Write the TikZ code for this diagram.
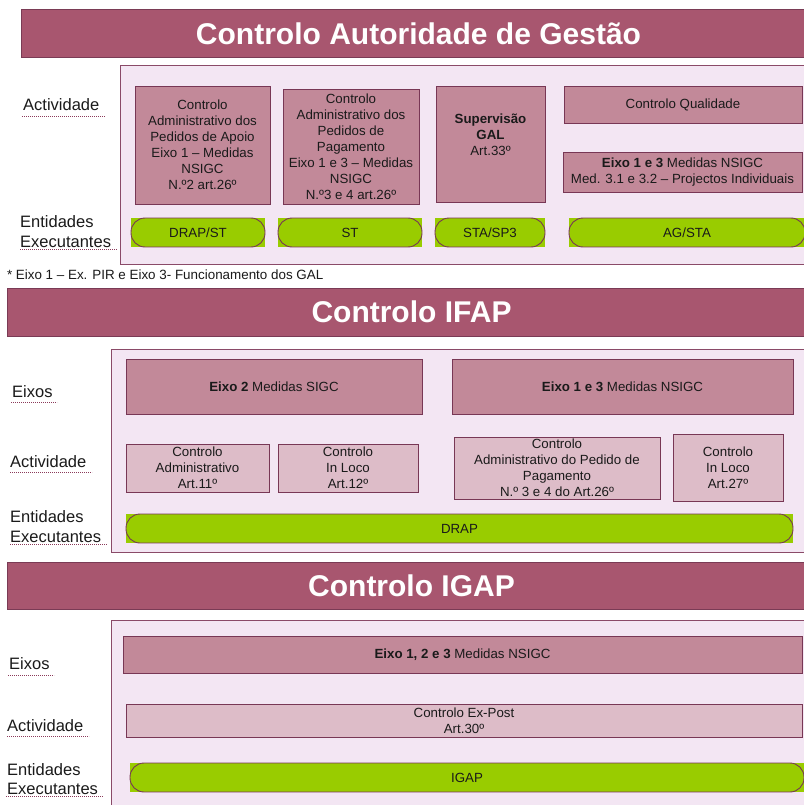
\documentclass[tikz,border=0pt]{standalone}
\usepackage{fontspec}
\setmainfont{Liberation Sans}
\definecolor{hdrc}{HTML}{A8566F}
\definecolor{hdrb}{HTML}{7A3B55}
\definecolor{panelc}{HTML}{F3E6F3}
\definecolor{panelb}{HTML}{8A4A68}
\definecolor{dboxc}{HTML}{C28999}
\definecolor{lboxc}{HTML}{DDBCC8}
\definecolor{boxb}{HTML}{783755}
\definecolor{greenc}{HTML}{99CC00}
\definecolor{txt}{HTML}{1A1A1A}
\definecolor{ulc}{HTML}{8B3A5A}
\newcommand\bx[7]{\node[#2, minimum width={(#5-#3)*1pt}, minimum height={(#6-#4)*1pt}] (#1) at ({(#3+#5)/2},{(#4+#6)/2}) {#7};}
\newcommand\pl[6]{\bx{#1}{pill}{#2}{#3}{#4}{#5}{#6}\draw[pilline] (#1.south west) rectangle (#1.north east);}
\begin{document}
\begin{tikzpicture}[x=1pt,y=-1pt,
  base/.style={inner sep=0pt, outer sep=0pt, align=center, text=txt, font=\fontsize{13.3}{16}\selectfont},
  hdr/.style={base, fill=hdrc, draw=hdrb, line width=1pt, text=white, font=\fontsize{30}{36}\selectfont\bfseries},
  panel/.style={base, fill=panelc, draw=panelb, line width=1pt},
  dbox/.style={base, fill=dboxc, draw=boxb, line width=0.9pt},
  lbox/.style={base, fill=lboxc, draw=boxb, line width=0.9pt},
  pill/.style={base, fill=greenc},
  pilline/.style={draw=boxb, line width=0.9pt, rounded corners=14pt},
  plain/.style={base},
  lbl/.style={inner sep=0pt, anchor=base west, text=txt, font=\fontsize{16.5}{20}\selectfont},
  uline/.style={draw=ulc, line width=0.8pt, dash pattern=on 1.2pt off 0.8pt}
]
\useasboundingbox (0,0) rectangle (803,805);
\fill[white] (0,0) rectangle (803,805);

% ===== Section 1 =====
\bx{h1}{hdr}{21}{10}{816}{58}{Controlo Autoridade de Gestão}
\bx{p1}{panel}{120}{66}{820}{264}{}
\node[lbl] (l1a) at (23,111) {Actividade};
\draw[uline] (22,116) -- (105,116);
\node[lbl] (l1e) at (20,227) {Entidades};
\node[lbl] (l1x) at (20,247) {Executantes};
\draw[uline] (20,249) -- (117,249);

\bx{b11}{dbox}{135}{86}{270}{204}{Controlo\\Administrativo dos\\Pedidos de Apoio\\Eixo 1 – Medidas\\NSIGC\\N.º2 art.26º}
\bx{b12}{dbox}{283}{89}{419}{204}{Controlo\\Administrativo dos\\Pedidos de\\Pagamento\\Eixo 1 e 3 – Medidas\\NSIGC\\N.º3 e 4 art.26º}
\bx{b13}{dbox}{436}{86}{545}{202}{}
\node[plain] (t13) at (490.5,135) {\textbf{Supervisão}\\\textbf{GAL}\\Art.33º};
\bx{b14}{dbox}{564}{86}{802}{123}{Controlo Qualidade}
\bx{b15}{dbox}{563}{152}{802}{192}{\textbf{Eixo 1 e 3} Medidas NSIGC\\Med. 3.1 e 3.2 – Projectos Individuais}

\pl{g11}{131}{218}{265}{247}{DRAP/ST}
\pl{g12}{278}{218}{422}{247}{ST}
\pl{g13}{435}{218}{545}{247}{STA/SP3}
\pl{g14}{569}{218}{805}{247}{AG/STA}

\node[base, anchor=west, font=\fontsize{13.4}{16}\selectfont] (fn) at (7,275) {* Eixo 1 – Ex. PIR e Eixo 3- Funcionamento dos GAL};

% ===== Section 2 =====
\bx{h2}{hdr}{7}{288}{816}{336}{Controlo IFAP}
\bx{p2}{panel}{111}{349}{820}{552}{}
\node[lbl] (l2i) at (12,397) {Eixos};
\draw[uline] (11,402) -- (57,402);
\node[lbl] (l2a) at (10,467) {Actividade};
\draw[uline] (10,472) -- (92,472);
\node[lbl] (l2e) at (10,522) {Entidades};
\node[lbl] (l2x) at (10,542) {Executantes};
\draw[uline] (10,544) -- (107,544);

\bx{b21}{dbox}{126}{359}{422}{414}{\textbf{Eixo 2} Medidas SIGC}
\bx{b22}{dbox}{452}{359}{793}{414}{\textbf{Eixo 1 e 3} Medidas NSIGC}
\bx{b23}{lbox}{126}{444}{269}{492}{Controlo\\Administrativo\\Art.11º}
\bx{b24}{lbox}{278}{444}{418}{492}{Controlo\\In Loco\\Art.12º}
\bx{b25}{lbox}{454}{437}{660}{499}{Controlo\\Administrativo do Pedido de\\Pagamento\\N.º 3 e 4 do Art.26º}
\bx{b26}{lbox}{673}{434}{783}{501}{Controlo\\In Loco\\Art.27º}
\pl{g21}{126}{514}{793}{543}{DRAP}

% ===== Section 3 =====
\bx{h3}{hdr}{7}{562}{816}{609}{Controlo IGAP}
\bx{p3}{panel}{111}{620}{820}{815}{}
\node[lbl] (l3i) at (9,669) {Eixos};
\draw[uline] (8,675) -- (54,675);
\node[lbl] (l3a) at (7,731) {Actividade};
\draw[uline] (7,736) -- (89,736);
\node[lbl] (l3e) at (7,775) {Entidades};
\node[lbl] (l3x) at (7,794) {Executantes};
\draw[uline] (6,796) -- (103,796);

\bx{b31}{dbox}{123}{636}{802}{673}{\textbf{Eixo 1, 2 e 3} Medidas NSIGC}
\bx{b32}{lbox}{126}{704}{802}{737}{Controlo Ex-Post\\Art.30º}
\pl{g31}{130}{763}{804}{792}{IGAP}
\end{tikzpicture}
\end{document}
